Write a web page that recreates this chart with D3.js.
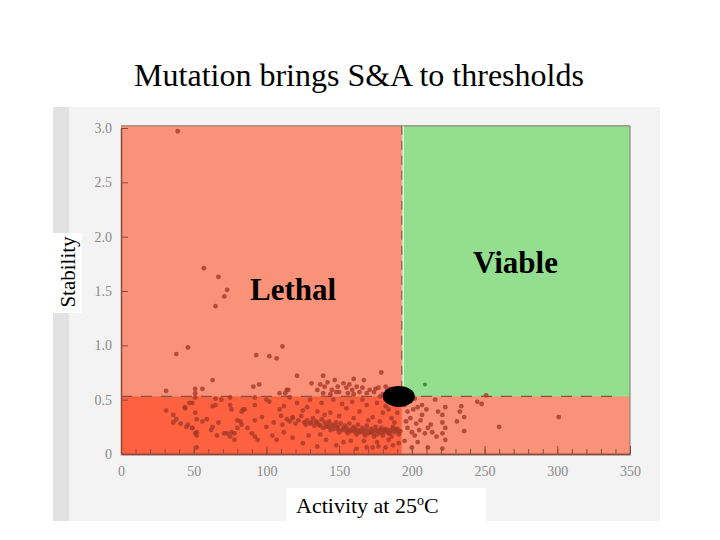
<!DOCTYPE html>
<html>
<head>
<meta charset="utf-8">
<script src="https://cdn.jsdelivr.net/npm/d3@7"></script>
<style>
  body { margin: 0; background: #fff; }
  svg text { font-family: "Liberation Serif", "Times New Roman", serif; }
</style>
</head>
<body>
<svg id="chart" width="720" height="540"></svg>
<script>
// ---- data ----
let xTicks = [0, 50, 100, 150, 200, 250, 300, 350];
let xTickLabels = ["0", "50", "100", "150", "200", "250", "300", "350"];
let yTicks = [0, 0.5, 1.0, 1.5, 2.0, 2.5, 3.0];
let yTickLabels = ["0", "0.5", "1.0", "1.5", "2.0", "2.5", "3.0"];

// thresholds
let activityThreshold = 193;
let stabilityThreshold = 0.53;
let wildType = [191, 0.53];

// scattered mutants well above threshold
let sparseMutants = [
    [39, 2.97], [57, 1.71], [67, 1.63], [73, 1.51], [71, 1.45], [65, 1.36],
    [46, 0.98], [38, 0.92], [111, 0.99], [93, 0.91], [102, 0.90], [107, 0.88],
    [63, 0.68], [31, 0.58], [51, 0.60], [51, 0.56], [56, 0.60],
    [91, 0.62], [95, 0.64], [121, 0.72], [139, 0.72], [179, 0.75],
    [160, 0.69], [167, 0.68], [114, 0.59]
];

// cluster just above the stability threshold
let nearThreshold = [
    [131, 0.65], [135, 0.59], [137, 0.64], [140, 0.62], [142, 0.66], [145, 0.59],
    [147, 0.68], [149, 0.62], [150, 0.57], [153, 0.65], [155, 0.61], [157, 0.64],
    [159, 0.59], [162, 0.62], [164, 0.57], [166, 0.61], [169, 0.56], [171, 0.59],
    [174, 0.57], [177, 0.61], [139, 0.56], [148, 0.57], [156, 0.56], [109, 0.56],
    [113, 0.56], [115, 0.59], [180, 0.55], [183, 0.58], [186, 0.56], [178, 0.53],
    [144, 0.55], [160, 0.55], [182, 0.62], [185, 0.60], [188, 0.58], [175, 0.60]
];

// lethal, below threshold, left part
let lowLeft = [
    [31, 0.40], [36, 0.36], [38, 0.32], [36, 0.29], [41, 0.28], [44, 0.43],
    [47, 0.47], [45, 0.25], [49, 0.24], [52, 0.20], [52, 0.17], [51, 0.38],
    [52, 0.32], [56, 0.30], [59, 0.32], [63, 0.44], [65, 0.51], [63, 0.25],
    [62, 0.22], [66, 0.17], [67, 0.29], [52, 0.06], [69, 0.50], [75, 0.52],
    [76, 0.41], [73, 0.19], [75, 0.16], [76, 0.20], [78, 0.19], [80, 0.24],
    [83, 0.27], [84, 0.41], [80, 0.31], [65, 0.45], [71, 0.19], [78, 0.13],
    [75, 0.45], [82, 0.30], [83, 0.39], [85, 0.41], [87, 0.24], [90, 0.19],
    [92, 0.16], [94, 0.13], [92, 0.31], [97, 0.34], [92, 0.45], [92, 0.52],
    [51, 0.52], [44, 0.42], [49, 0.47], [46, 0.27], [49, 0.24], [51, 0.19]
];

// lethal, below threshold, middle part
let lowMiddle = [
    [169, 0.06], [173, 0.06], [177, 0.07], [182, 0.06], [162, 0.05], [153, 0.11],
    [141, 0.13], [125, 0.10], [118, 0.15], [107, 0.13], [100, 0.25], [105, 0.29],
    [111, 0.27], [109, 0.41], [102, 0.48], [118, 0.34], [121, 0.47], [128, 0.43],
    [135, 0.39], [144, 0.38], [155, 0.42], [164, 0.39], [169, 0.45], [173, 0.34],
    [180, 0.38], [186, 0.33], [190, 0.45], [159, 0.48], [146, 0.50], [130, 0.50],
    [116, 0.52], [100, 0.50], [187, 0.08], [191, 0.10], [148, 0.08], [135, 0.07],
    [186, 0.48], [182, 0.44], [176, 0.47], [166, 0.50], [152, 0.46], [138, 0.47],
    [125, 0.40], [112, 0.44], [190, 0.38], [184, 0.41], [160, 0.33], [150, 0.35],
    [140, 0.36], [170, 0.31], [188, 0.29], [178, 0.30], [158, 0.12], [167, 0.12],
    [176, 0.11], [184, 0.13], [129, 0.17], [137, 0.18], [112, 0.20], [104, 0.17]
];

// dense band of mutants
let denseBand = [
    [128, 0.31], [130, 0.28], [132, 0.33], [134, 0.30], [136, 0.27], [138, 0.32],
    [140, 0.29], [141, 0.25], [143, 0.30], [145, 0.27], [146, 0.23], [148, 0.29],
    [149, 0.25], [151, 0.28], [152, 0.22], [154, 0.26], [155, 0.24], [157, 0.28],
    [158, 0.21], [160, 0.25], [161, 0.23], [163, 0.27], [164, 0.20], [166, 0.24],
    [167, 0.22], [169, 0.26], [170, 0.19], [172, 0.23], [173, 0.21], [175, 0.25],
    [176, 0.18], [178, 0.22], [179, 0.24], [181, 0.20], [182, 0.23], [184, 0.19],
    [185, 0.22], [187, 0.25], [188, 0.20], [190, 0.23], [191, 0.18], [192, 0.21],
    [150, 0.20], [156, 0.19], [162, 0.18], [168, 0.17], [174, 0.16], [180, 0.17],
    [186, 0.16], [144, 0.22], [139, 0.24], [133, 0.26], [126, 0.29], [122, 0.31],
    [118, 0.33], [114, 0.32], [110, 0.35], [124, 0.35], [120, 0.28], [116, 0.30],
    [159, 0.23], [165, 0.21], [171, 0.20], [177, 0.21], [183, 0.21], [189, 0.22],
    [153, 0.24], [147, 0.26], [142, 0.27], [135, 0.29],
    [157, 0.22], [163, 0.22], [169, 0.22], [175, 0.22], [181, 0.22], [187, 0.23],
    [161, 0.20], [167, 0.19], [173, 0.19], [179, 0.19], [185, 0.19], [191, 0.20],
    [155, 0.21], [149, 0.23], [143, 0.25], [137, 0.26], [131, 0.29], [127, 0.27]
];

// low-stability mutants with activity above threshold
let lowRight = [
    [195, 0.45], [197, 0.39], [201, 0.41], [204, 0.43], [207, 0.45], [210, 0.41],
    [207, 0.36], [216, 0.50], [218, 0.39], [221, 0.36], [197, 0.24], [200, 0.20],
    [202, 0.17], [205, 0.22], [209, 0.19], [211, 0.24], [214, 0.20], [217, 0.16],
    [221, 0.19], [223, 0.13], [211, 0.06], [221, 0.05], [200, 0.06], [221, 0.29],
    [223, 0.24], [223, 0.43], [236, 0.34], [233, 0.39], [234, 0.44], [231, 0.30],
    [236, 0.21], [248, 0.46], [245, 0.48], [260, 0.25], [301, 0.34], [251, 0.54],
    [196, 0.30], [199, 0.33], [203, 0.28], [206, 0.31], [213, 0.27], [195, 0.12],
    [204, 0.11], [198, 0.49], [202, 0.51]
];

// the single mutant inside the viable region
let viableMutants = [[209, 0.64]];

// ---- layout ----
let svg = d3.select("#chart");
let x = d3.scaleLinear().domain([0, 350]).range([121, 630]);
let y = d3.scaleLinear().domain([0, 3]).range([454, 128]);

// scanned page background
svg.append("rect")
    .attr("x", 53).attr("y", 107).attr("width", 607).attr("height", 414)
    .attr("fill", "#f3f3f3");
svg.append("rect")
    .attr("x", 53).attr("y", 107).attr("width", 16).attr("height", 414)
    .attr("fill", "#e2e2e2");

// regions
let yTop = y(3.02);
svg.append("rect")
    .attr("x", x(0)).attr("y", yTop)
    .attr("width", x(350) - x(0)).attr("height", y(0) - yTop)
    .attr("fill", "#f99279");
svg.append("rect")
    .attr("x", x(activityThreshold)).attr("y", yTop)
    .attr("width", x(350) - x(activityThreshold))
    .attr("height", y(stabilityThreshold) - yTop)
    .attr("fill", "#94de8f");
svg.append("rect")
    .attr("x", x(0)).attr("y", y(stabilityThreshold))
    .attr("width", x(activityThreshold) - x(0))
    .attr("height", y(0) - y(stabilityThreshold))
    .attr("fill", "#fd6140");

// frame top/right
svg.append("path")
    .attr("d", `M${x(0)},${yTop}H${x(350)}V${y(0)}`)
    .attr("fill", "none").attr("stroke", "#7d7a70").attr("stroke-width", 1);

// threshold dashes
svg.append("line")
    .attr("x1", x(activityThreshold) + 1.5).attr("x2", x(activityThreshold) + 1.5)
    .attr("y1", yTop).attr("y2", y(stabilityThreshold))
    .attr("stroke", "#fff8e8").attr("stroke-width", 1.2);
svg.append("line")
    .attr("x1", x(activityThreshold)).attr("x2", x(activityThreshold))
    .attr("y1", yTop).attr("y2", y(stabilityThreshold))
    .attr("stroke", "#8a6a55").attr("stroke-width", 1.3)
    .attr("stroke-dasharray", "9,6");
svg.append("line")
    .attr("x1", x(0)).attr("x2", x(343))
    .attr("y1", y(stabilityThreshold)).attr("y2", y(stabilityThreshold))
    .attr("stroke", "#8a5040").attr("stroke-width", 1.3)
    .attr("stroke-dasharray", "11,9");

// mutants
let allMutants = [].concat(sparseMutants, nearThreshold, lowLeft, lowMiddle, denseBand, lowRight);
svg.append("g").selectAll("circle")
    .data(allMutants).enter().append("circle")
    .attr("cx", d => x(d[0]))
    .attr("cy", d => y(d[1]))
    .attr("r", 2.4)
    .attr("fill", "#a83a28")
    .attr("fill-opacity", 0.8);
svg.append("g").selectAll("circle")
    .data(viableMutants).enter().append("circle")
    .attr("cx", d => x(d[0]))
    .attr("cy", d => y(d[1]))
    .attr("r", 2)
    .attr("fill", "#3c8a3c");

// wild type
svg.append("ellipse")
    .attr("cx", x(wildType[0])).attr("cy", y(wildType[1]))
    .attr("rx", 16).attr("ry", 10.5)
    .attr("fill", "#000");

// axes
let axisColor = "#8c4a3a";
let yAxis = svg.append("g")
    .attr("transform", `translate(${x(0)},0)`)
    .call(d3.axisLeft(y).tickValues(yTicks)
        .tickFormat((d, i) => yTickLabels[i])
        .tickSizeInner(-7).tickSizeOuter(0).tickPadding(9));

let xMinor = svg.append("g")
    .attr("transform", `translate(0,${y(0)})`)
    .call(d3.axisBottom(x).tickValues(d3.range(0, 351, 10))
        .tickFormat("").tickSizeInner(-5).tickSizeOuter(0));

let xAxis = svg.append("g")
    .attr("transform", `translate(0,${y(0)})`)
    .call(d3.axisBottom(x).tickValues(xTicks)
        .tickFormat((d, i) => xTickLabels[i])
        .tickSizeInner(-8).tickSizeOuter(0).tickPadding(12));

[yAxis, xMinor, xAxis].forEach(g => {
    g.select(".domain").attr("stroke", axisColor).attr("stroke-width", 1.5);
    g.selectAll(".tick line").attr("stroke", axisColor);
    g.selectAll("text")
        .attr("fill", "#8a8a8a")
        .attr("font-size", 14)
        .attr("font-family", "'Liberation Serif', serif");
});

// title
svg.append("text")
    .attr("x", 359).attr("y", 86)
    .attr("text-anchor", "middle")
    .attr("font-size", 32)
    .attr("fill", "#000")
    .text("Mutation brings S&A to thresholds");

// y label with white box
svg.append("rect")
    .attr("x", 53).attr("y", 233).attr("width", 29).attr("height", 80)
    .attr("fill", "#fff");
svg.append("text")
    .attr("transform", "translate(75,272) rotate(-90)")
    .attr("text-anchor", "middle")
    .attr("font-size", 21)
    .text("Stability");

// x label with white box
svg.append("rect")
    .attr("x", 286).attr("y", 488).attr("width", 200).attr("height", 33)
    .attr("fill", "#fff");
let xl = svg.append("text")
    .attr("x", 296).attr("y", 513)
    .attr("font-size", 22);
xl.append("tspan").text("Activity at 25");
xl.append("tspan").attr("font-size", 14).attr("dy", -8).text("o");
xl.append("tspan").attr("dy", 8).text("C");

// region labels
svg.append("text")
    .attr("x", 250).attr("y", 300)
    .attr("font-size", 31).attr("font-weight", "bold")
    .text("Lethal");
svg.append("text")
    .attr("x", 473).attr("y", 273)
    .attr("font-size", 31).attr("font-weight", "bold")
    .text("Viable");
</script>
</body>
</html>
